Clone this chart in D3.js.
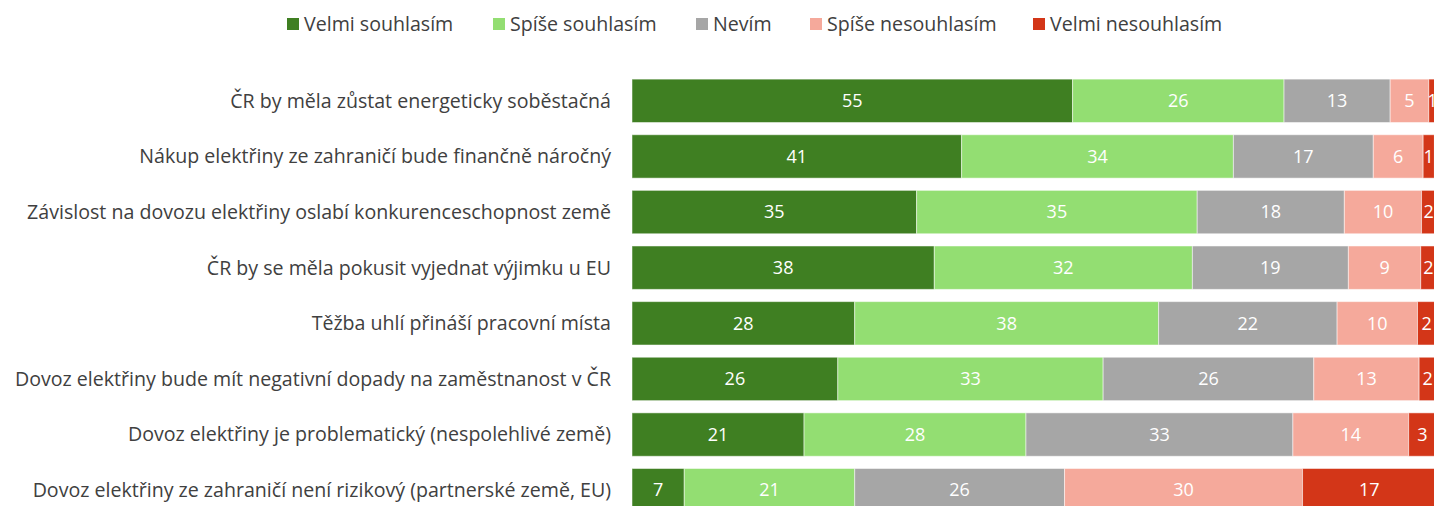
<!DOCTYPE html>
<html>
<head>
<meta charset="utf-8">
<script src="https://cdn.jsdelivr.net/npm/d3@7"></script>
<style>
  body { margin: 0; background: #fff; }
  #chart text { font-family: "Open Sans", "Noto Sans", sans-serif; }
</style>
</head>
<body>
<div id="chart"></div>
<script>
// data (shares in %; labels show them rounded)
var categories = [
    "ČR by měla zůstat energeticky soběstačná",
    "Nákup elektřiny ze zahraničí bude finančně náročný",
    "Závislost na dovozu elektřiny oslabí konkurenceschopnost země",
    "ČR by se měla pokusit vyjednat výjimku u EU",
    "Těžba uhlí přináší pracovní místa",
    "Dovoz elektřiny bude mít negativní dopady na zaměstnanost v ČR",
    "Dovoz elektřiny je problematický (nespolehlivé země)",
    "Dovoz elektřiny ze zahraničí není rizikový (partnerské země, EU)"
];
var seriesNames = ["Velmi souhlasím", "Spíše souhlasím", "Nevím", "Spíše nesouhlasím", "Velmi nesouhlasím"];
var velmiSouhlasim    = [54.8, 41.0, 35.4, 37.6, 27.7, 25.6, 21.4, 6.5];
var spiseSouhlasim    = [26.3, 33.8, 34.9, 32.1, 37.8, 33.0, 27.6, 21.2];
var nevim             = [13.2, 17.4, 18.3, 19.4, 22.2, 26.2, 33.2, 26.1];
var spiseNesouhlasim  = [4.8, 6.2, 9.6, 9.0, 10.0, 13.1, 14.4, 29.6];
var velmiNesouhlasim  = [0.9, 1.4, 1.8, 1.9, 2.3, 2.1, 3.4, 16.6];
var colors = ["#3f7f22", "#93de72", "#a6a6a6", "#f5a99b", "#d33618"];

var width = 1434, height = 506;
var svg = d3.select("#chart").append("svg")
    .attr("width", width)
    .attr("height", height);

var rows = categories.map(function(c, i) {
    return {
        cat: c,
        s0: velmiSouhlasim[i], s1: spiseSouhlasim[i], s2: nevim[i],
        s3: spiseNesouhlasim[i], s4: velmiNesouhlasim[i]
    };
});
var keys = ["s0", "s1", "s2", "s3", "s4"];
var stacked = d3.stack().keys(keys)(rows);

var x = d3.scaleLinear().domain([0, 100]).range([632, 1436]);
var y = d3.scaleBand().domain(categories).range([73, 518]).paddingInner(0.22).paddingOuter(0.11);

// category labels
svg.append("g").selectAll("text")
    .data(categories)
    .enter().append("text")
    .attr("x", 611)
    .attr("y", function(d) { return y(d) + y.bandwidth() / 2; })
    .attr("dy", "0.35em")
    .attr("text-anchor", "end")
    .attr("font-size", 19.6)
    .attr("fill", "#404040")
    .text(function(d) { return d; });

// bars
var layer = svg.append("g").selectAll("g")
    .data(stacked)
    .enter().append("g")
    .attr("fill", function(d, i) { return colors[i]; });

layer.selectAll("rect")
    .data(function(d) { return d; })
    .enter().append("rect")
    .attr("x", function(d) { return x(d[0]); })
    .attr("y", function(d) { return y(d.data.cat); })
    .attr("width", function(d) { return x(d[1]) - x(d[0]); })
    .attr("height", y.bandwidth())
    .attr("stroke", "#ffffff")
    .attr("stroke-opacity", 0.5)
    .attr("stroke-width", 1);

// value labels
layer.selectAll("text")
    .data(function(d) { return d; })
    .enter().append("text")
    .attr("x", function(d) { return (x(d[0]) + x(d[1])) / 2; })
    .attr("y", function(d) { return y(d.data.cat) + y.bandwidth() / 2; })
    .attr("dy", "0.35em")
    .attr("text-anchor", "middle")
    .attr("font-size", 18)
    .attr("fill", "#ffffff")
    .text(function(d) { return Math.round(d[1] - d[0]); });

// legend
var legendX = [287, 493, 696, 810, 1033];
var legend = svg.append("g").selectAll("g")
    .data(seriesNames)
    .enter().append("g")
    .attr("transform", function(d, i) { return "translate(" + legendX[i] + ",24)"; });
legend.append("rect")
    .attr("x", 0).attr("y", -6)
    .attr("width", 12).attr("height", 12)
    .attr("fill", function(d, i) { return colors[i]; });
legend.append("text")
    .attr("x", 17)
    .attr("dy", "0.35em")
    .attr("font-size", 19.6)
    .attr("fill", "#404040")
    .text(function(d) { return d; });
</script>
</body>
</html>
